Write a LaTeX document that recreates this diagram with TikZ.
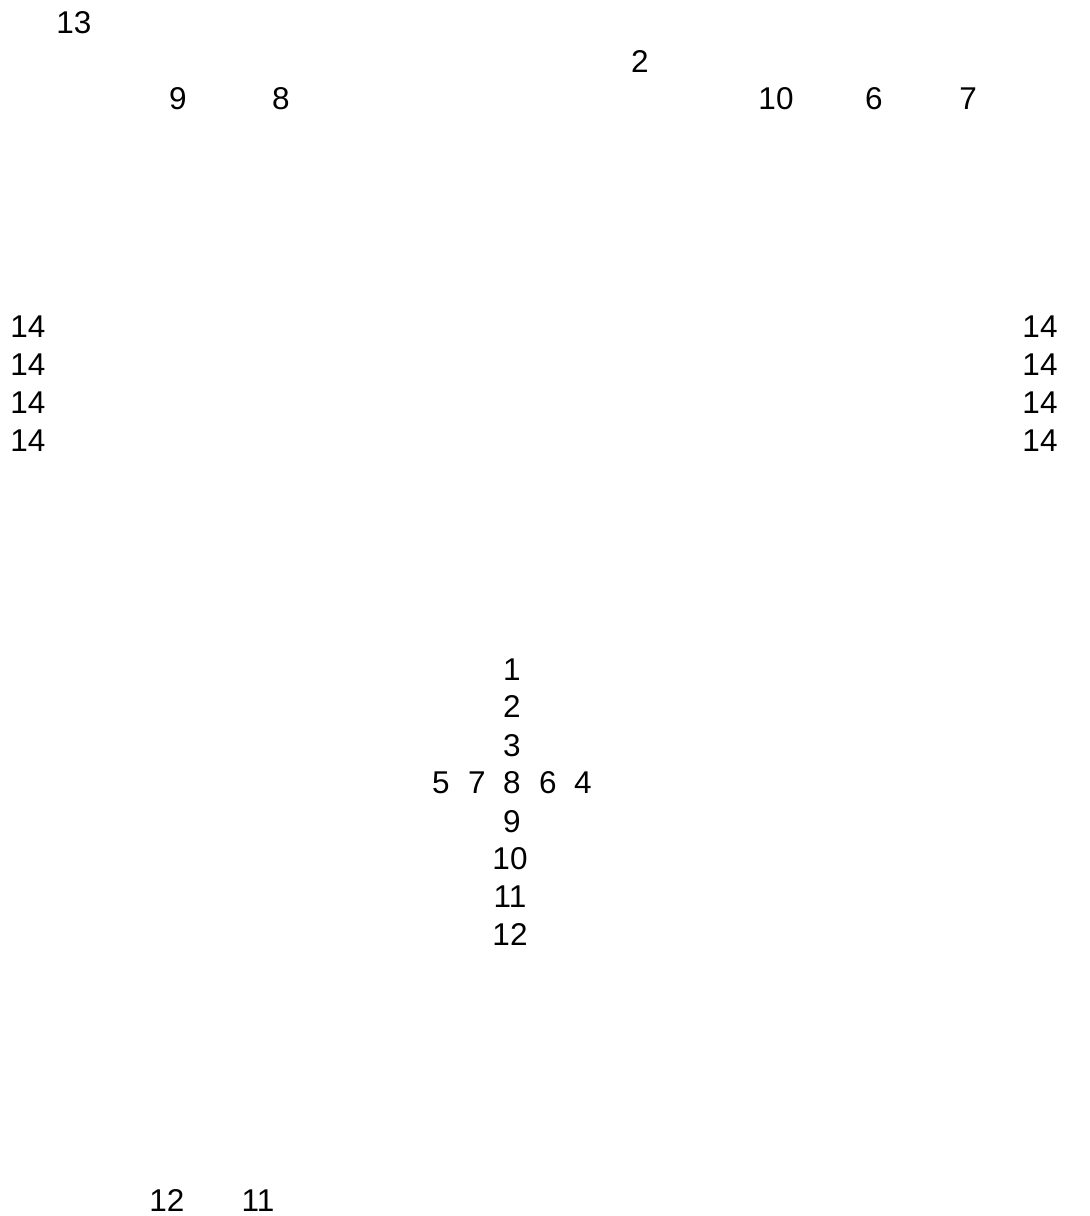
\documentclass[tikz,border=0pt]{standalone}
\usepackage{fontspec}
\setmainfont{Liberation Sans}
\begin{document}
\begin{tikzpicture}[x=1pt,y=-1pt,
  lbl/.style={anchor=base,inner sep=0pt,font=\fontsize{31.5}{38}\selectfont}]
\useasboundingbox[fill=white] (0,0) rectangle (1090,1216);
% top area
\node[lbl] (t13) at (74,33) {13};
\node[lbl] (t2) at (640,72) {2};
\node[lbl] (t9) at (178,109) {9};
\node[lbl] (t8) at (281,109) {8};
\node[lbl] (t10) at (776,109) {10};
\node[lbl] (t6) at (874,109) {6};
\node[lbl] (t7) at (968,109) {7};
% side columns
\foreach \y [count=\i] in {337,375,413,451}{
  \node[lbl] (l14\i) at (28,\y) {14};
  \node[lbl] (r14\i) at (1040,\y) {14};
}
% central cross
\node[lbl] (c1) at (512,680) {1};
\node[lbl] (c2) at (512,717) {2};
\node[lbl] (c3) at (512,756) {3};
\node[lbl] (c5) at (441,793) {5};
\node[lbl] (c7) at (477,793) {7};
\node[lbl] (c8) at (512,793) {8};
\node[lbl] (c6) at (548,793) {6};
\node[lbl] (c4) at (583,793) {4};
\node[lbl] (c9) at (512,832) {9};
\node[lbl] (c10) at (510,869) {10};
\node[lbl] (c11) at (510,907) {11};
\node[lbl] (c12) at (510,945) {12};
% bottom
\node[lbl] (b12) at (167,1211) {12};
\node[lbl] (b11) at (258,1211) {11};
\end{tikzpicture}
\end{document}
